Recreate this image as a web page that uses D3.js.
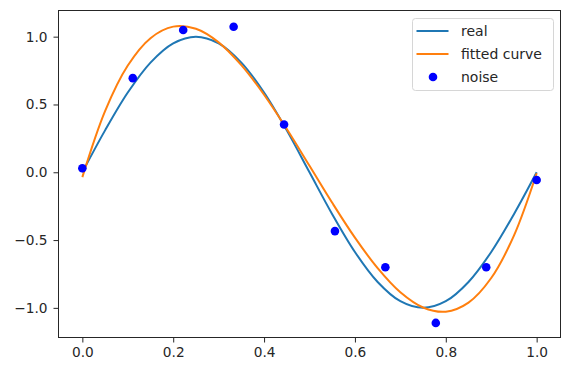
<!DOCTYPE html>
<html>
<head>
<meta charset="utf-8">
<script src="https://cdn.jsdelivr.net/npm/d3@7"></script>
<style>
  body { margin: 0; background: #fff; }
  svg { display: block; font-family: "DejaVu Sans", sans-serif; }
  .axis text { font-size: 13.7px; fill: #262626; }
  .axis path, .axis line { stroke: #262626; }
</style>
</head>
<body>
<svg id="chart"></svg>
<script>
var width = 586;
var height = 368;

// sample positions along x for the two curves
var curveX = [0, 0.05, 0.1, 0.15, 0.2, 0.25, 0.3, 0.35, 0.4, 0.45, 0.5,
    0.55, 0.6, 0.65, 0.7, 0.75, 0.8, 0.85, 0.9, 0.95, 1];

// "real" curve values
var realY = [0, 0.309, 0.588, 0.809, 0.951, 1.0, 0.951, 0.809, 0.588, 0.309, 0,
    -0.309, -0.588, -0.809, -0.951, -1.0, -0.951, -0.809, -0.588, -0.309, 0];

// "fitted curve" values
var fitY = [-0.036, 0.451, 0.787, 0.989, 1.074, 1.058, 0.958, 0.790, 0.572, 0.319, 0.048,
    -0.225, -0.482, -0.707, -0.885, -0.997, -1.028, -0.961, -0.780, -0.467, -0.007];

// noise points
var noiseX = [0, 0.111, 0.222, 0.333, 0.444, 0.556, 0.667, 0.778, 0.889, 1];
var noiseY = [0.03, 0.694, 1.049, 1.073, 0.352, -0.434, -0.70, -1.111, -0.70, -0.057];

var xTicks = [0, 0.2, 0.4, 0.6, 0.8, 1.0];
var yTicks = [-1.0, -0.5, 0, 0.5, 1.0];

var legendItems = [["real", "line", "#1f77b4"], ["fitted curve", "line", "#ff7f0e"], ["noise", "dot", "#0000ff"]];

var plot = {left: 58.5, right: 560.5, top: 10.5, bottom: 337.5};

var svg = d3.select("#chart")
    .attr("width", width)
    .attr("height", height);

var x = d3.scaleLinear()
    .domain([-0.0525, 1.0525])
    .range([plot.left, plot.right]);

var y = d3.scaleLinear()
    .domain([-1.2185, 1.193])
    .range([plot.bottom, plot.top]);

var fmt = function(d) { return d3.format(".1f")(d).replace("-", "\u2212"); };

// x axis
svg.append("g")
    .attr("class", "axis")
    .attr("transform", "translate(0," + plot.bottom + ")")
    .call(d3.axisBottom(x).tickValues(xTicks).tickFormat(fmt).tickSize(5).tickPadding(5).tickSizeOuter(0))
    .call(function(g) { g.select(".domain").remove(); });

// y axis
svg.append("g")
    .attr("class", "axis")
    .attr("transform", "translate(" + plot.left + ",0)")
    .call(d3.axisLeft(y).tickValues(yTicks).tickFormat(fmt).tickSize(5).tickPadding(6).tickSizeOuter(0))
    .call(function(g) { g.select(".domain").remove(); });

svg.selectAll(".axis text").style("font-family", "'DejaVu Sans'");

var line = d3.line()
    .x(function(d) { return x(d[0]); })
    .y(function(d) { return y(d[1]); })
    .curve(d3.curveCatmullRom.alpha(0.5));

svg.append("path")
    .datum(d3.zip(curveX, realY))
    .attr("d", line)
    .attr("fill", "none")
    .attr("stroke", "#1f77b4")
    .attr("stroke-width", 2);

svg.append("path")
    .datum(d3.zip(curveX, fitY))
    .attr("d", line)
    .attr("fill", "none")
    .attr("stroke", "#ff7f0e")
    .attr("stroke-width", 2);

svg.selectAll("circle.noise")
    .data(d3.zip(noiseX, noiseY))
    .enter().append("circle")
    .attr("class", "noise")
    .attr("cx", function(d) { return x(d[0]); })
    .attr("cy", function(d) { return y(d[1]); })
    .attr("r", 4.3)
    .attr("fill", "#0000ff");

// frame
svg.append("rect")
    .attr("x", plot.left)
    .attr("y", plot.top)
    .attr("width", plot.right - plot.left)
    .attr("height", plot.bottom - plot.top)
    .attr("fill", "none")
    .attr("stroke", "#262626")
    .attr("stroke-width", 1);

// legend
var legend = svg.append("g").attr("transform", "translate(412.5,18.5)");

legend.append("rect")
    .attr("width", 141)
    .attr("height", 72)
    .attr("rx", 3)
    .attr("fill", "#fff")
    .attr("fill-opacity", 0.8)
    .attr("stroke", "#d6d6d6");

var rows = legend.selectAll("g.row")
    .data(legendItems)
    .enter().append("g")
    .attr("class", "row")
    .attr("transform", function(d, i) { return "translate(0," + (12.5 + i * 23) + ")"; });

rows.filter(function(d) { return d[1] == "line"; })
    .append("line")
    .attr("x1", 4).attr("x2", 36)
    .attr("stroke", function(d) { return d[2]; })
    .attr("stroke-width", 2);

rows.filter(function(d) { return d[1] == "dot"; })
    .append("circle")
    .attr("cx", 20.5)
    .attr("r", 4.3)
    .attr("fill", function(d) { return d[2]; });

rows.append("text")
    .attr("x", 48.5)
    .attr("dy", "0.35em")
    .style("font-size", "14px")
    .style("fill", "#262626")
    .text(function(d) { return d[0]; });
</script>
</body>
</html>
